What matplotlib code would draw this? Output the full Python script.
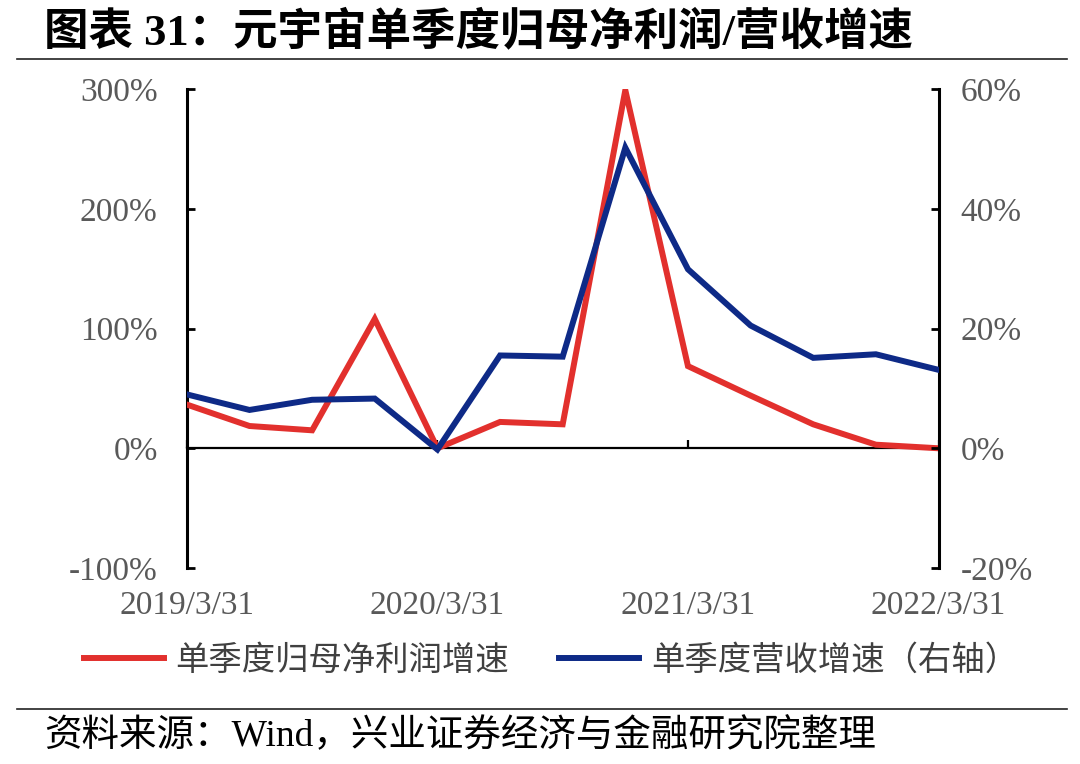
import matplotlib
matplotlib.use("Agg")
import matplotlib.pyplot as plt
from matplotlib.lines import Line2D

plt.rcParams['font.family'] = ['Liberation Serif', 'Noto Sans CJK SC']

# quarterly data
dates = ['2019/3/31', '2019/6/30', '2019/9/30', '2019/12/31',
         '2020/3/31', '2020/6/30', '2020/9/30', '2020/12/31',
         '2021/3/31', '2021/6/30', '2021/9/30', '2021/12/31',
         '2022/3/31']
profit_growth = [36.5, 18.6, 15, 108, 0, 22, 20, 299, 68.6, 44, 20, 3, 0]      # left axis, %
revenue_growth = [9.0, 6.4, 8.1, 8.3, -0.2, 15.5, 15.3, 50.2, 29.9, 20.5, 15.1, 15.7, 13.1]  # right axis, %
label_positions = [0, 4, 8, 12]

red = '#E2302D'
blue = '#0E2A87'
gray = '#595959'

fig = plt.figure(figsize=(10.8, 7.64), dpi=100)
ax = fig.add_axes([0.173, 0.2565, 0.696, 0.627])
ax2 = ax.twinx()

x = list(range(len(dates)))
l1, = ax.plot(x, profit_growth, color=red, lw=4.3, solid_joinstyle='miter', zorder=3)
l2, = ax2.plot(x, revenue_growth, color=blue, lw=4.3, solid_joinstyle='miter', zorder=3)

ax.set_xlim(0, 12)
ax.set_ylim(-100, 300)
ax2.set_ylim(-20, 60)
ax.set_yticks([-100, 0, 100, 200, 300])
ax.set_yticklabels([f'{v}%' for v in [-100, 0, 100, 200, 300]])
ax2.set_yticks([-20, 0, 20, 40, 60])
ax2.set_yticklabels([f'{v}%' for v in [-20, 0, 20, 40, 60]])

for a in (ax, ax2):
    a.spines['top'].set_visible(False)
    a.spines['bottom'].set_visible(False)
ax.spines['right'].set_visible(False)
ax2.spines['left'].set_visible(False)
ax.spines['left'].set_linewidth(2.2)
ax2.spines['right'].set_linewidth(2.2)

ax.tick_params(axis='y', direction='in', length=6, width=2, pad=21,
               labelsize=24, labelcolor=gray)
ax2.tick_params(axis='y', direction='in', length=6, width=2, pad=16,
                labelsize=24, labelcolor=gray)

# x labels at the bottom, no tick marks
ax.set_xticks(label_positions)
ax.set_xticklabels([dates[i] for i in label_positions])
ax.tick_params(axis='x', length=0, pad=16, labelsize=24, labelcolor=gray)

# zero axis line with inward ticks
sec = ax.secondary_xaxis(0.25)
sec.set_xticks(label_positions)
sec.tick_params(axis='x', direction='in', length=6, width=1.6, labelbottom=False)
sec.spines['bottom'].set_linewidth(1.6)
sec.spines['bottom'].set_color('black')

# legend
fig.legend([l1, l2], ['单季度归母净利润增速', '单季度营收增速（右轴）'],
           loc='center', bbox_to_anchor=(0.51, 0.135), ncol=2, frameon=False,
           fontsize=24, handlelength=2.4, handletextpad=0.35, columnspacing=1.5,
           labelcolor='#404040')

# title, rules, source
fig.text(0.041, 0.958, '图表 31：元宇宙单季度归母净利润/营收增速', fontsize=32,
         fontweight='bold', va='center', ha='left')
fig.add_artist(Line2D([0.016, 0.988], [0.923, 0.923], transform=fig.transFigure,
                      color='#222222', lw=1.2))
fig.add_artist(Line2D([0.016, 0.988], [0.072, 0.072], transform=fig.transFigure,
                      color='#222222', lw=1.2))
fig.text(0.041, 0.036, '资料来源：Wind，兴业证券经济与金融研究院整理', fontsize=27,
         va='center', ha='left')

fig.savefig('out.png', dpi=100)
